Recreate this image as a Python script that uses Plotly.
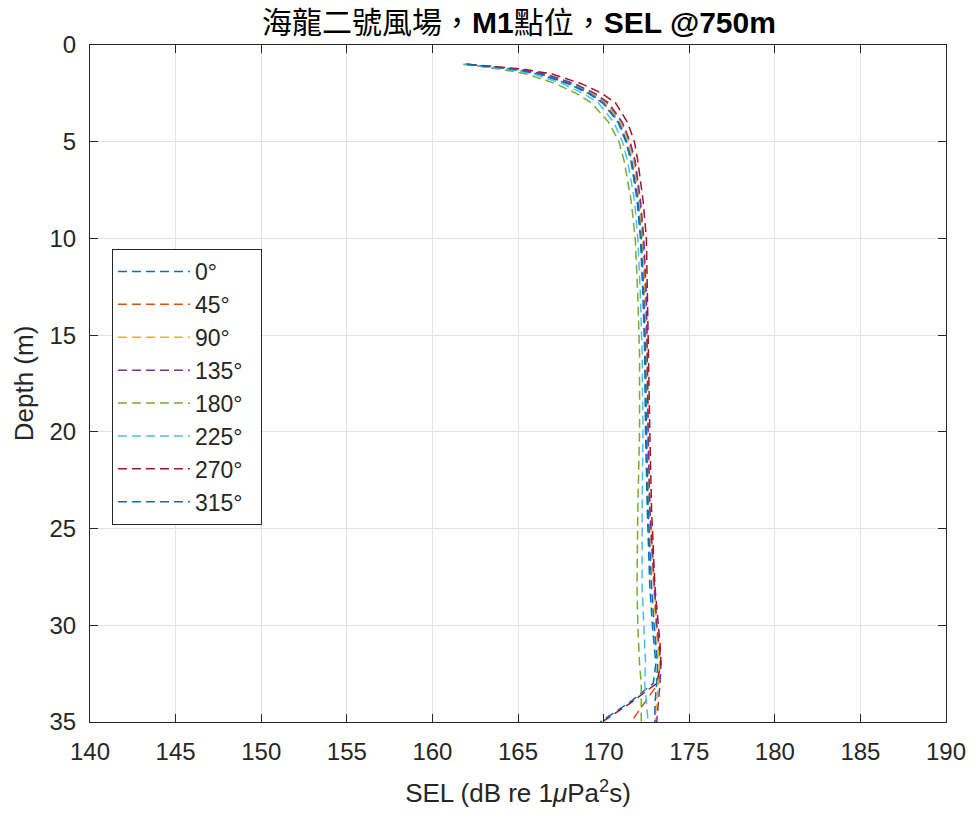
import plotly.graph_objects as go

depth = [1, 1.25, 1.5, 2, 2.5, 3, 4, 5, 6, 8, 10, 13, 16, 20, 24, 28, 30, 31, 32, 33, 34, 35]

labels = ["0°", "45°", "90°", "135°", "180°", "225°", "270°", "315°"]
colors = ["#0072BD", "#D95319", "#EDB120", "#7E2F8E", "#77AC30", "#4DBEEE", "#A2142F", "#0072BD"]

sel_0 = [161.9, 164.6, 166.2, 167.9, 169.1, 169.95, 170.85, 171.3, 171.6, 171.95, 172.15, 172.3, 172.4, 172.45, 172.55, 172.7, 172.85, 172.95, 173.05, 172.9, 171.5, 169.8]
sel_45 = [162.0, 164.9, 166.5, 168.2, 169.4, 170.2, 171.05, 171.5, 171.8, 172.1, 172.3, 172.45, 172.55, 172.6, 172.7, 172.95, 173.1, 173.2, 173.3, 173.2, 172.4, 171.6]
sel_90 = [162.0, 164.8, 166.4, 168.1, 169.3, 170.1, 171.0, 171.45, 171.75, 172.05, 172.25, 172.4, 172.5, 172.55, 172.65, 172.9, 173.05, 173.15, 173.25, 173.2, 173.1, 173.0]
sel_135 = [162.0, 165.0, 166.6, 168.3, 169.5, 170.3, 171.1, 171.55, 171.85, 172.15, 172.35, 172.5, 172.55, 172.6, 172.7, 172.95, 173.1, 173.25, 173.35, 173.3, 173.2, 173.1]
sel_180 = [161.8, 164.0, 165.5, 167.2, 168.4, 169.3, 170.3, 170.9, 171.2, 171.6, 171.85, 172.0, 172.1, 172.1, 172.0, 171.95, 172.0, 172.05, 172.1, 172.2, 172.2, 172.2]
sel_225 = [161.9, 164.4, 165.9, 167.6, 168.8, 169.7, 170.6, 171.1, 171.4, 171.8, 172.0, 172.15, 172.25, 172.3, 172.25, 172.25, 172.35, 172.4, 172.45, 172.4, 172.5, 172.6]
sel_270 = [162.1, 165.3, 167.0, 168.7, 169.9, 170.7, 171.4, 171.8, 172.0, 172.3, 172.5, 172.55, 172.6, 172.7, 172.8, 173.0, 173.2, 173.3, 173.35, 173.1, 171.6, 169.9]
sel_315 = [162.0, 164.7, 166.3, 168.0, 169.2, 170.0, 170.9, 171.35, 171.65, 172.0, 172.2, 172.35, 172.45, 172.5, 172.6, 172.8, 172.95, 173.05, 173.15, 173.1, 173.0, 173.0]

series = [sel_0, sel_45, sel_90, sel_135, sel_180, sel_225, sel_270, sel_315]

x_ticks = list(range(140, 191, 5))
y_ticks = list(range(0, 36, 5))

font_main = "Liberation Sans, Arial, Noto Sans CJK TC, sans-serif"
dark = "#262626"

fig = go.Figure()
for i, (lab, col, vals) in enumerate(zip(labels, colors, series)):
    fig.add_trace(go.Scatter(
        x=vals, y=depth, mode="lines", name=lab + "\u00a0\u00a0",
        legendgroup=f"g{i}",
        line=dict(color=col, width=1.5, dash="9px,5px"),
    ))

axis_common = dict(
    showline=True, linecolor=dark, linewidth=1, mirror="ticks",
    ticks="inside", ticklen=8, tickcolor=dark, tickwidth=1,
    showgrid=True, gridcolor="#e3e3e3", gridwidth=1,
    zeroline=False,
    tickfont=dict(family=font_main, size=24, color=dark),
)

fig.update_layout(
    width=978, height=819,
    margin=dict(l=90, r=30, t=45, b=97),
    paper_bgcolor="white", plot_bgcolor="white",
    title=dict(
        text="海龍二號風場，<b>M1</b>點位，<b>SEL @750m</b>",
        x=(90 + 948) / 2 / 978, xanchor="center",
        y=1 - 22 / 819, yanchor="middle",
        font=dict(family="Liberation Sans, Arial, Noto Sans CJK TC, sans-serif", size=30, color="black"),
    ),
    xaxis=dict(
        range=[140, 190], tickvals=x_ticks, ticklabelstandoff=8,
        title=dict(text="SEL (dB re 1<i>μ</i>Pa<sup>2</sup>s)", font=dict(family=font_main, size=26, color=dark), standoff=20),
        **axis_common,
    ),
    yaxis=dict(
        range=[35, 0], tickvals=y_ticks, ticklabelstandoff=8,
        title=dict(text="Depth (m)", font=dict(family=font_main, size=26, color=dark), standoff=8),
        **axis_common,
    ),
    legend=dict(
        x=(112 - 90) / 858, y=(722 - 249) / 677, xanchor="left", yanchor="top",
        bgcolor="white", bordercolor=dark, borderwidth=1,
        font=dict(family=font_main, size=23, color=dark),
        tracegroupgap=0, itemwidth=72,
    ),
    showlegend=True,
)

fig.write_html("out.html")
